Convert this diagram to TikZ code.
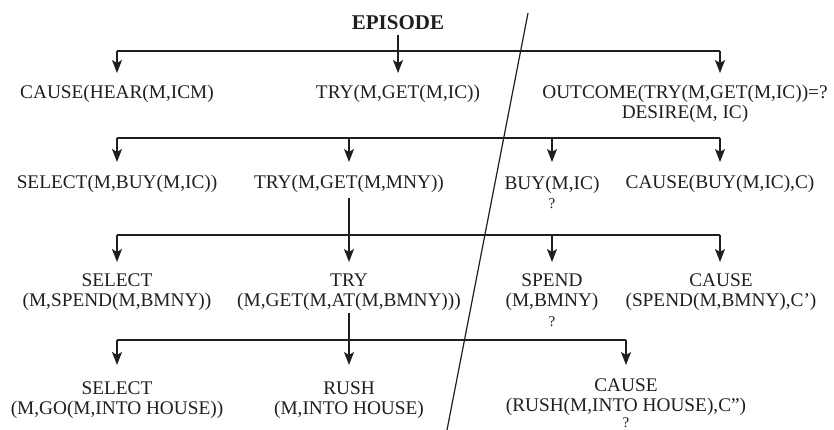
\documentclass[tikz,border=0pt]{standalone}
\usepackage{fontspec}
\setmainfont{Liberation Serif}
\usetikzlibrary{arrows.meta}
\newcommand{\qmark}{{\fontsize{15}{15}\selectfont ?}}
\begin{document}
\begin{tikzpicture}[x=1pt,y=-1pt,
  lbl/.style={inner sep=0pt, anchor=base, align=center, text=black!88,
    font=\fontsize{19.3}{20}\selectfont},
  head/.style={inner sep=0pt, anchor=base, text=black!88,
    font=\fontsize{21}{22}\selectfont\bfseries},
  ln/.style={line width=1.3pt, draw=black!88},
  arr/.style={ln, -{Stealth[length=13pt,width=10pt,inset=3pt]}}]
\useasboundingbox (0,0) rectangle (834,430);
\fill[white] (0,0) rectangle (834,430);

% (multi-line nodes are placed at the baseline of their last line)
% level 0
\node[head] (ep) at (398,30) {EPISODE};
% level 1
\node[lbl] (c1) at (117,99) {CAUSE(HEAR(M,ICM)};
\node[lbl] (t1) at (398,99) {TRY(M,GET(M,IC))};
\node[lbl] (o1) at (685,119) {OUTCOME(TRY(M,GET(M,IC))=?\\DESIRE(M, IC)};
\coordinate (o1x) at (720,73);
% level 2
\node[lbl] (s2) at (117,189) {SELECT(M,BUY(M,IC))};
\node[lbl] (t2) at (349,189) {TRY(M,GET(M,MNY))};
\node[lbl] (b2) at (552,208) {BUY(M,IC)\\[-1pt]\qmark};
\node[lbl] (k2) at (720,189) {CAUSE(BUY(M,IC),C)};
% level 3
\node[lbl] (s3) at (117,306) {SELECT\\(M,SPEND(M,BMNY))};
\node[lbl] (t3) at (349,306) {TRY\\(M,GET(M,AT(M,BMNY)))};
\node[lbl] (p3) at (552,326) {SPEND\\(M,BMNY)\\\qmark};
\node[lbl] (k3) at (721,306) {CAUSE\\(SPEND(M,BMNY),C')};
% level 4
\node[lbl] (s4) at (117,414) {SELECT\\(M,GO(M,INTO HOUSE))};
\node[lbl] (r4) at (349,414) {RUSH\\(M,INTO HOUSE)};
\node[lbl] (k4) at (626,427) {CAUSE\\(RUSH(M,INTO HOUSE),C")\\[-4pt]\qmark};

% bus heights and arrow tip heights
\coordinate (bus0) at (0,51);  \coordinate (tip0) at (0,73);
\coordinate (bus1) at (0,138); \coordinate (tip1) at (0,162);
\coordinate (bus2) at (0,235); \coordinate (tip2) at (0,262);
\coordinate (bus3) at (0,340); \coordinate (tip3) at (0,365);

% level 0 -> 1
\draw[arr] ([yshift=-5pt]ep.south) -- (tip0 -| ep);
\draw[ln] (bus0 -| c1) -- (bus0 -| o1x);
\draw[arr] (bus0 -| c1) -- (tip0 -| c1);
\draw[arr] (bus0 -| o1x) -- (tip0 -| o1x);

% level 1 -> 2
\draw[ln] (bus1 -| s2) -- (bus1 -| k2);
\draw[arr] (bus1 -| s2) -- (tip1 -| s2);
\draw[arr] (bus1 -| t2) -- (tip1 -| t2);
\draw[arr] (bus1 -| b2) -- (tip1 -| b2);
\draw[arr] (bus1 -| k2) -- (tip1 -| k2);

% level 2 -> 3
\draw[arr] ([yshift=-5pt]t2.south) -- (tip2 -| t3);
\draw[ln] (bus2 -| s3) -- (bus2 -| k2);
\draw[arr] (bus2 -| s3) -- (tip2 -| s3);
\draw[arr] (bus2 -| p3) -- (tip2 -| p3);
\draw[arr] (bus2 -| k2) -- (tip2 -| k2);

% level 3 -> 4
\draw[arr] ([yshift=-3pt]t3.south) -- (tip3 -| r4);
\draw[ln] (bus3 -| s4) -- (bus3 -| k4);
\draw[arr] (bus3 -| s4) -- (tip3 -| s4);
\draw[arr] (bus3 -| k4) -- (tip3 -| k4);

% slanted divider
\coordinate (d1) at (528,13);
\coordinate (d2) at (447,430);
\draw[line width=1.2pt, draw=black!88] (d1) -- (d2);
\end{tikzpicture}
\end{document}
